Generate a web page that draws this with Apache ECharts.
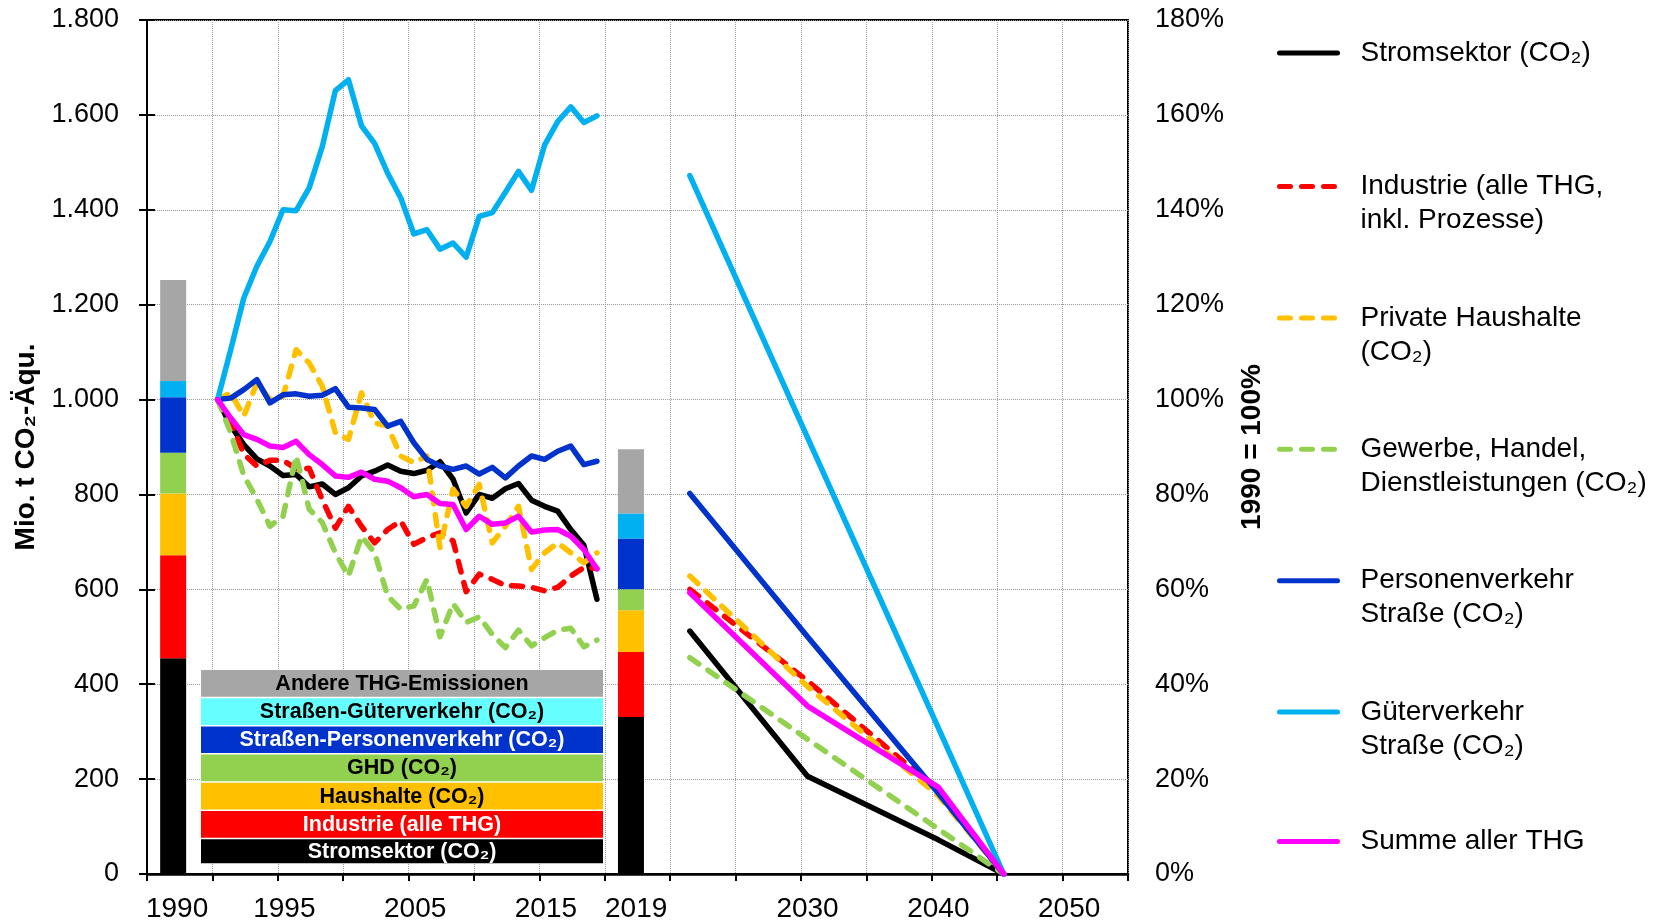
<!DOCTYPE html>
<html><head><meta charset="utf-8">
<script src="https://cdn.jsdelivr.net/npm/echarts@6/dist/echarts.min.js"></script>
<style>html,body{margin:0;padding:0;background:#fff}#c{width:1666px;height:923px}</style>
</head><body><div id="c"></div>
<script>
const FONT = "'Liberation Sans', Arial, Helvetica, sans-serif";

// ---------- DATA ----------
const histYears = [1990,1991,1992,1993,1994,1995,1996,1997,1998,1999,2000,2001,2002,2003,2004,2005,2006,2007,2008,2009,2010,2011,2012,2013,2014,2015,2016,2017,2018,2019];
const projYears = [2021, 2030, 2040, 2045];

const lineNames = [
  'Stromsektor (CO₂)',
  'Industrie (alle THG,\ninkl. Prozesse)',
  'Private Haushalte\n(CO₂)',
  'Gewerbe, Handel,\nDienstleistungen (CO₂)',
  'Personenverkehr\nStraße (CO₂)',
  'Güterverkehr\nStraße (CO₂)',
  'Summe aller THG'
];

// percent of 1990
const histStrom     = [100,94.5,90.5,87.5,86.0,84.0,84.2,81.6,82.2,80.0,81.4,83.9,84.9,86.2,84.9,84.4,85.1,86.9,83.2,76.1,80.0,79.2,81.2,82.3,78.8,77.5,76.5,72.6,69.3,57.9];
const histIndustrie = [100,95.3,88.5,86.0,87.2,87.2,85.4,85.5,78.9,72.9,77.5,73.3,69.8,72.6,74.4,69.5,70.9,71.9,70.2,59.5,63.2,62.1,60.8,60.7,60.4,59.7,60.4,62.8,64.6,64.4];
const histHaushalte = [100,101.4,96.5,103.5,100.0,100.7,110.5,107.7,102.8,93.0,91.6,101.4,95.1,94.4,88.1,86.7,88.1,68.8,81.1,77.5,82.1,69.8,73.3,77.5,64.2,67.7,69.8,67.7,65.6,67.7];
const histGHD       = [100,93,84,79.0,73.3,75.4,88.1,76.9,74.1,67.7,62.8,71.2,67.7,58.6,55.8,56.5,62.1,50.0,57.0,53.0,54.2,50.5,47.7,51.4,48.1,49.8,51.4,51.8,47.9,49.3];
const histPersonen  = [100,100.3,102.1,104.2,99.3,101.0,101.2,100.7,100.9,102.3,98.4,98.2,97.9,94.4,95.4,90.9,87.4,86.0,85.3,86.0,84.3,85.7,83.5,86.0,88.1,87.4,89.1,90.2,86.3,87.0];
const histGueter    = [100,110.5,121.4,128.1,133.3,140.0,139.8,144.6,153.3,165.1,167.4,157.7,154.0,147.7,142.5,134.9,135.8,131.7,133.0,130.0,138.6,139.4,143.7,148.1,144.1,153.7,158.6,161.7,158.4,159.8];
const histSumme     = [100,96.1,92.6,91.6,90.2,89.9,91.2,88.4,86.3,83.9,83.6,84.7,83.2,82.8,81.4,79.5,80.0,78.1,77.9,72.6,75.4,73.7,74.0,75.4,72.1,72.5,72.6,71.2,68.4,64.3];

const projStrom     = [51.2, 20.6, 7.2, 0];
const projIndustrie = [60.0, 40.7, 17.5, 0];
const projHaushalte = [62.8, 39.5, 16.5, 0];
const projGHD       = [45.6, 28.4, 9.5, 0];
const projPersonen  = [80.2, 50.0, 17.0, 0];
const projGueter    = [147.2, 92.0, 30.8, 0];
const projSumme     = [59.3, 35.4, 18.3, 0];

// stacked bars, Mio. t CO2-Äqu. (bottom to top)
const barNames = ['Stromsektor (CO₂)', 'Industrie (alle THG)', 'Haushalte (CO₂)', 'GHD (CO₂)', 'Straßen-Personenverkehr (CO₂)', 'Straßen-Güterverkehr (CO₂)', 'Andere THG-Emissionen'];
const bars1990 = [455, 217, 130, 86, 117, 34, 213];
const bars2019 = [331, 137, 88, 44, 107, 53, 135];

const xTickLabels = ['1990', '1995', '2005', '2015', '2019', '2030', '2040', '2050'];

// ---------- STYLE / LAYOUT ----------
const lineColors = ['#000000', '#FF0000', '#FFC000', '#92D050', '#0033CC', '#00B0F0', '#FF00FF'];
const lineDashed = [false, true, true, true, false, false, false];
const barColors = ['#000000', '#FF0000', '#FFC000', '#92D050', '#0033CC', '#00B0F0', '#A6A6A6'];
const boxColors = ['#000000', '#FF0000', '#FFC000', '#92D050', '#0033CC', '#66FFFF', '#A6A6A6'];
const boxTextColors = ['#FFFFFF', '#FFFFFF', '#000000', '#000000', '#FFFFFF', '#000000', '#000000'];
const xTickPos = [2.3, 10.5, 20.5, 30.5, 37.4, 50.5, 60.5, 70.5];
const X_MAX = 75;
const barSlots = [4, 74];              // half-unit slots on the bar category axis (unit 2 and unit 37)
const histX = y => y - 1990 + 5.4;
const projX = y => y - 2021 + 41.5;

const histAll = [histStrom, histIndustrie, histHaushalte, histGHD, histPersonen, histGueter, histSumme];
const projAll = [projStrom, projIndustrie, projHaushalte, projGHD, projPersonen, projGueter, projSumme];

const slotCats = [];
for (let i = 0; i <= X_MAX * 2; i++) slotCats.push(String(i / 2));

const series = [];
barNames.forEach((n, i) => {
  const d = slotCats.map(() => '-');
  d[barSlots[0]] = bars1990[i];
  d[barSlots[1]] = bars2019[i];
  series.push({
    name: n + ' – Balken', type: 'bar', stack: 'total', xAxisIndex: 2, yAxisIndex: 0,
    barWidth: 26, itemStyle: { color: barColors[i] }, data: d
  });
});
lineNames.forEach((n, i) => {
  const d = histYears.map((y, j) => [histX(y), histAll[i][j]]);
  d.push([36, '-']);
  projYears.forEach((y, j) => d.push([projX(y), projAll[i][j]]));
  series.push({
    name: n, type: 'line', xAxisIndex: 0, yAxisIndex: 1, symbol: 'none', showSymbol: false,
    connectNulls: false,
    lineStyle: { color: lineColors[i], width: 5.5, type: lineDashed[i] ? [11, 11] : 'solid', cap: 'round', join: 'round' },
    itemStyle: { color: lineColors[i] },
    data: d
  });
});

// right legends (one per item to control spacing)
const legendCenters = [53.1, 184.5, 315.9, 447.3, 578.7, 710.1, 841.5];
const legends = lineNames.map((n, i) => {
  const two = n.indexOf('\n') >= 0;
  return {
    data: [n], orient: 'vertical', left: 1277, top: legendCenters[i] - (two ? 51 : 17) + (two ? 2 : 0),
    padding: 0, itemWidth: 58, itemHeight: 14, selectedMode: false,
    formatter: name => (name.indexOf('\n') >= 0 ? '\u200B\n' + name : name),
    itemStyle: { color: 'transparent', borderColor: 'transparent', borderWidth: 0, opacity: 0 },
    lineStyle: { width: 5, cap: 'round' },
    textStyle: { fontFamily: FONT, fontSize: 28, lineHeight: 34, color: '#000', padding: [0, 0, 0, 18] }
  };
});

// box legend for bars
const boxLeft = 201, boxW = 402, boxTop = 670, pitch = 28.2, rowH = 26.7;
const graphics = [{ type: 'rect', shape: { x: boxLeft, y: boxTop, width: boxW, height: 193.3 }, style: { fill: '#fff' }, z: 10 }];
for (let k = 0; k < 7; k++) {
  const i = 6 - k;
  const y = boxTop + k * pitch;
  const h = k === 6 ? 863.3 - y : rowH;
  graphics.push({ type: 'rect', shape: { x: boxLeft, y: y, width: boxW, height: h }, style: { fill: boxColors[i] }, z: 11 });
  graphics.push({ type: 'text', z: 12, style: { text: barNames[i], x: boxLeft + boxW / 2, y: y + h / 2 + 0.5, align: 'center', verticalAlign: 'middle', fill: boxTextColors[i], font: "bold 21.5px " + FONT } });
}

const fmtThousand = v => v >= 1000 ? Math.floor(v / 1000) + '.' + String(v % 1000).padStart(3, '0') : String(v);

const option = {
  animation: false,
  backgroundColor: '#fff',
  textStyle: { fontFamily: FONT },
  grid: { left: 147, right: 538, top: 20, bottom: 48, show: true, borderColor: '#000', borderWidth: 2, backgroundColor: 'transparent' },
  legend: legends,
  xAxis: [
    { type: 'value', min: 0, max: X_MAX, interval: 5, position: 'bottom',
      axisLine: { show: true, lineStyle: { color: '#000', width: 2.5 } },
      axisTick: { show: true, inside: false, length: 7, lineStyle: { color: '#000', width: 2 } },
      axisLabel: { show: false },
      splitLine: { show: true, lineStyle: { color: '#9a9a9a', width: 1, type: [1, 1] } } },
    { type: 'value', min: 0, max: X_MAX, position: 'bottom',
      axisLine: { show: false }, axisTick: { show: false }, splitLine: { show: false },
      axisLabel: { show: true, customValues: xTickPos, margin: 21, fontSize: 28, color: '#000', fontFamily: FONT,
        formatter: v => { const k = xTickPos.indexOf(v); return k >= 0 ? xTickLabels[k] : ''; } } },
    { type: 'category', data: slotCats, boundaryGap: false, position: 'bottom', show: false }
  ],
  yAxis: [
    { type: 'value', min: 0, max: 1800, interval: 200, position: 'left',
      name: 'Mio. t CO₂-Äqu.', nameLocation: 'middle', nameGap: 100, nameRotate: 90,
      nameTextStyle: { fontFamily: FONT, fontSize: 28, fontWeight: 'bold', color: '#000' },
      axisLine: { show: true, lineStyle: { color: '#000', width: 2 } },
      axisTick: { show: true, inside: false, length: 8, lineStyle: { color: '#000', width: 2 } },
      axisLabel: { margin: 28, fontSize: 27, color: '#000', fontFamily: FONT, formatter: fmtThousand },
      splitLine: { show: true, lineStyle: { color: '#9a9a9a', width: 1, type: [1, 1] } } },
    { type: 'value', min: 0, max: 180, interval: 20, position: 'right',
      name: '1990 = 100%', nameLocation: 'middle', nameGap: 110, nameRotate: 90,
      nameTextStyle: { fontFamily: FONT, fontSize: 28, fontWeight: 'bold', color: '#000' },
      axisLine: { show: true, lineStyle: { color: '#000', width: 2 } },
      axisTick: { show: true, inside: false, length: 8, lineStyle: { color: '#000', width: 2 } },
      axisLabel: { margin: 27, fontSize: 27, color: '#000', fontFamily: FONT, formatter: v => v + '%' },
      splitLine: { show: false } }
  ],
  series: series,
  graphic: graphics
};

const chart = echarts.init(document.getElementById('c'), null, { renderer: 'canvas' });
chart.setOption(option);
</script>
</body></html>
